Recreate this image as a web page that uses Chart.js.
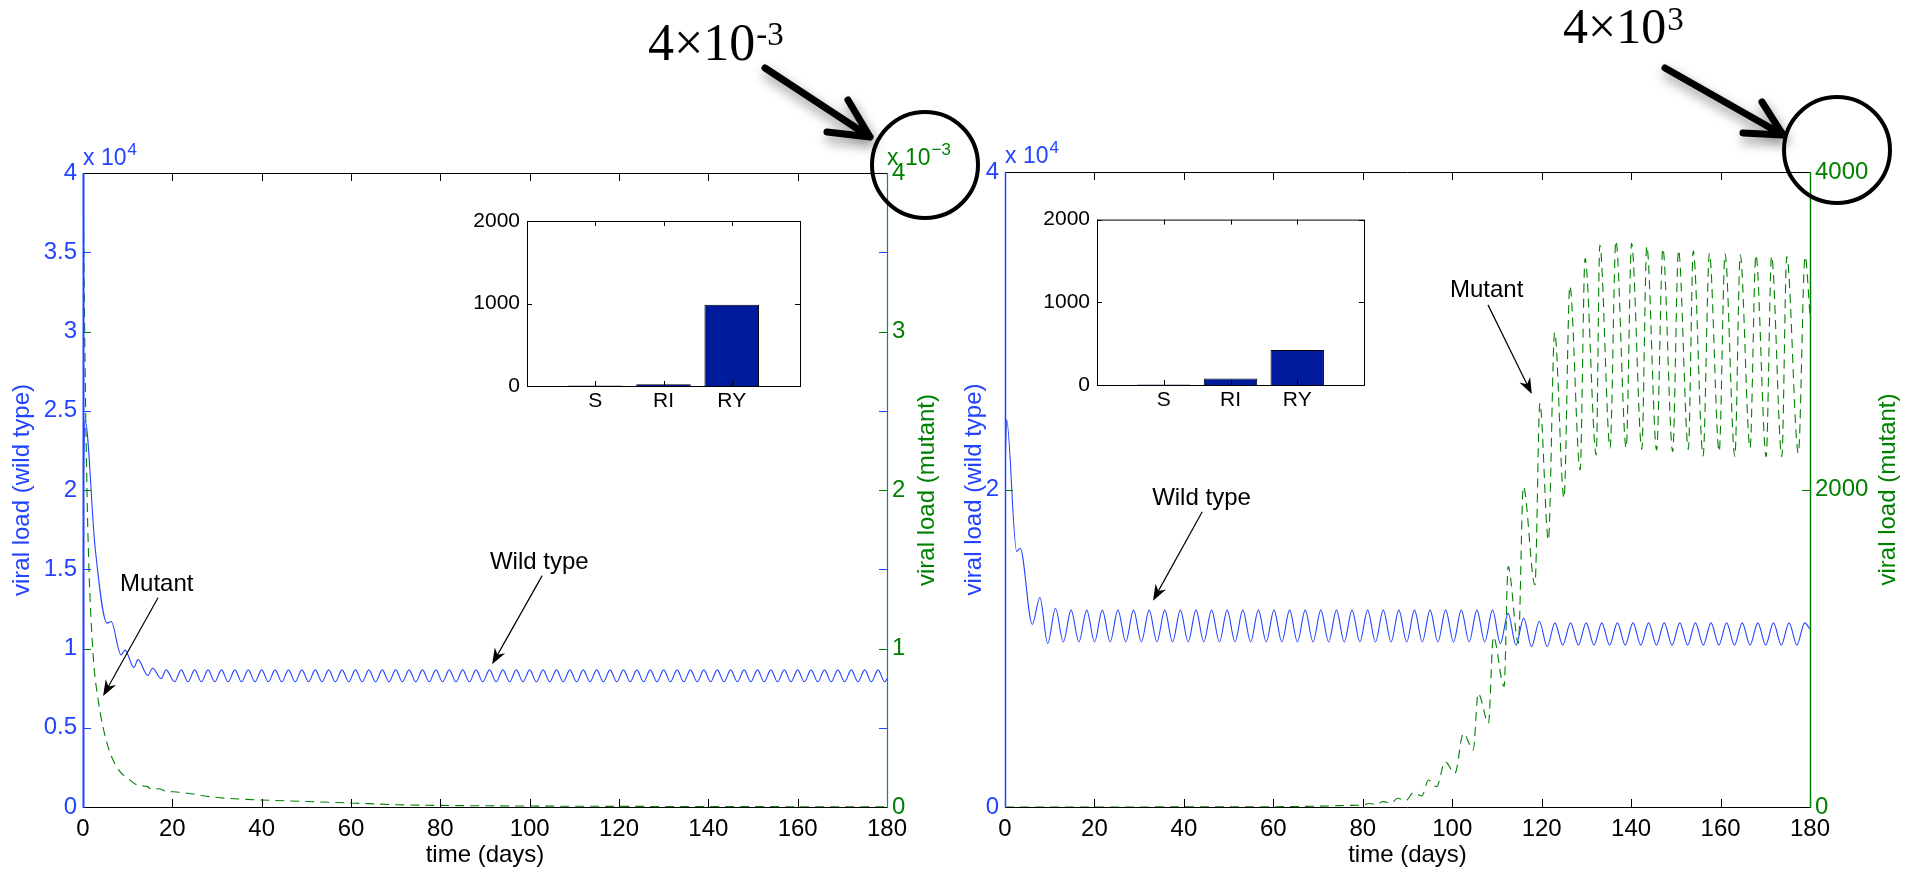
<!DOCTYPE html>
<html>
<head>
<meta charset="utf-8">
<title>viral load</title>
<script src="https://cdn.jsdelivr.net/npm/chart.js@4.4.1/dist/chart.umd.min.js"></script>
<style>
  html, body { margin: 0; padding: 0; background: #fff; }
  body { width: 1907px; height: 872px; position: relative; overflow: hidden; }
  canvas { position: absolute; }
  #leftChart { left: 0; top: 0; }
  #rightChart { left: 940px; top: 0; }
  #leftInset { left: 460px; top: 200px; }
  #rightInset { left: 1030px; top: 200px; }
</style>
</head>
<body>
<canvas id="leftChart" width="1000" height="872"></canvas>
<canvas id="rightChart" width="967" height="872"></canvas>
<canvas id="leftInset" width="360" height="230"></canvas>
<canvas id="rightInset" width="360" height="230"></canvas>
<script>
// values are kept in the units printed on each axis
// (wild type in 10^4, left mutant in 10^-3, right mutant plain)
const xTicks = [0, 20, 40, 60, 80, 100, 120, 140, 160, 180];
const leftWildTicks = [0, 0.5, 1, 1.5, 2, 2.5, 3, 3.5, 4];
const leftMutTicks = [0, 1, 2, 3, 4];
const rightWildTicks = [0, 2, 4];
const rightMutTicks = [0, 2000, 4000];
const insetTicks = [0, 1000, 2000];

const insetCats = ['', 'S', 'RI', 'RY', ''];
const leftInsetVals = [null, 6, 22, 985, null];
const rightInsetVals = [null, 6, 80, 422, null];

const leftWildT = [0, 0.45, 2.7, 5.4, 6.3, 8.5, 9.4, 11.4, 12.3, 14.5, 15.6, 17.5, 18.6,
  20.5, 22, 23.5, 25, 26.5, 28, 29.5, 31, 32.5, 34, 35.5, 37, 38.5, 40, 41.5, 43, 44.5, 46, 47.5, 49,
  50.5, 52, 53.5, 55, 56.5, 58, 59.5, 61, 62.5, 64, 65.5, 67, 68.5, 70, 71.5, 73, 74.5, 76, 77.5, 79,
  80.5, 82, 83.5, 85, 86.5, 88, 89.5, 91, 92.5, 94, 95.5, 97, 98.5, 100, 101.5, 103, 104.5, 106, 107.5, 109,
  110.5, 112, 113.5, 115, 116.5, 118, 119.5, 121, 122.5, 124, 125.5, 127, 128.5, 130, 131.5, 133, 134.5, 136, 137.5, 139,
  140.5, 142, 143.5, 145, 146.5, 148, 149.5, 151, 152.5, 154, 155.5, 157, 158.5, 160, 161.5, 163, 164.5, 166, 167.5, 169,
  170.5, 172, 173.5, 175, 176.5, 178, 179.5, 180];
const leftWildV = [2.0, 2.44, 1.64, 1.16, 1.17, 0.96, 0.99, 0.88, 0.93, 0.83, 0.875, 0.81, 0.865,
  0.79, 0.865, 0.79, 0.865, 0.79, 0.865, 0.79, 0.865, 0.79, 0.865, 0.79, 0.865, 0.79, 0.865, 0.79, 0.865, 0.79, 0.865, 0.79, 0.865,
  0.79, 0.865, 0.79, 0.865, 0.79, 0.865, 0.79, 0.865, 0.79, 0.865, 0.79, 0.865, 0.79, 0.865, 0.79, 0.865, 0.79, 0.865, 0.79, 0.865,
  0.79, 0.865, 0.79, 0.865, 0.79, 0.865, 0.79, 0.865, 0.79, 0.865, 0.79, 0.865, 0.79, 0.865, 0.79, 0.865, 0.79, 0.865, 0.79, 0.865,
  0.79, 0.865, 0.79, 0.865, 0.79, 0.865, 0.79, 0.865, 0.79, 0.865, 0.79, 0.865, 0.79, 0.865, 0.79, 0.865, 0.79, 0.865, 0.79, 0.865,
  0.79, 0.865, 0.79, 0.865, 0.79, 0.865, 0.79, 0.865, 0.79, 0.865, 0.79, 0.865, 0.79, 0.865, 0.79, 0.865, 0.79, 0.865, 0.79, 0.865,
  0.79, 0.865, 0.79, 0.865, 0.79, 0.865, 0.79, 0.81];

const leftMutT = [0, 0.3, 0.6, 1.1, 2.2, 3.4, 5.4, 7.6, 10.5, 12.5, 14.3, 15.5, 17, 18.5,
  21, 25, 29, 35, 40, 50, 60, 70, 80, 100, 120, 140, 160, 180];
const leftMutV = [4.0, 3.2, 2.5, 1.73, 0.99, 0.675, 0.40, 0.25, 0.17, 0.135, 0.13, 0.11, 0.115, 0.10,
  0.095, 0.08, 0.063, 0.05, 0.044, 0.035, 0.025, 0.015, 0.01, 0.006, 0.004, 0.003, 0.002, 0.002];

const rightWildT = [0, 0.35, 2.6, 3.4, 6.1,
  7.8, 9.55, 11.29, 13.04, 14.78, 16.53, 18.27, 20.02, 21.76, 23.51,
  25.25, 27.0, 28.74, 30.49, 32.23, 33.98, 35.72, 37.47, 39.21, 40.96,
  42.7, 44.45, 46.19, 47.94, 49.68, 51.43, 53.17, 54.92, 56.66, 58.41,
  60.15, 61.9, 63.64, 65.39, 67.13, 68.88, 70.62, 72.37, 74.11, 75.86,
  77.6, 79.35, 81.09, 82.84, 84.58, 86.33, 88.07, 89.82, 91.56, 93.31,
  95.05, 96.8, 98.54, 100.29, 102.03, 103.78, 105.52, 107.27, 109.01, 110.76,
  112.5, 114.25, 115.99, 117.74, 119.48, 121.23, 122.97, 124.72, 126.46, 128.21,
  129.95, 131.7, 133.44, 135.19, 136.93, 138.68, 140.42, 142.17, 143.91, 145.66,
  147.4, 149.15, 150.89, 152.64, 154.38, 156.13, 157.87, 159.62, 161.36, 163.11,
  164.85, 166.6, 168.34, 170.09, 171.83, 173.58, 175.32, 177.07, 178.81, 180];
const rightWildV = [2.1, 2.44, 1.61, 1.63, 1.15,
  1.32, 1.03, 1.25, 1.04, 1.24, 1.04, 1.24, 1.04, 1.24, 1.04,
  1.24, 1.04, 1.24, 1.04, 1.24, 1.04, 1.24, 1.04, 1.24, 1.04,
  1.24, 1.04, 1.24, 1.04, 1.24, 1.04, 1.24, 1.04, 1.24, 1.04,
  1.24, 1.04, 1.24, 1.04, 1.24, 1.04, 1.24, 1.04, 1.24, 1.04,
  1.24, 1.04, 1.24, 1.04, 1.24, 1.04, 1.24, 1.04, 1.24, 1.04,
  1.24, 1.04, 1.24, 1.04, 1.24, 1.04, 1.24, 1.04, 1.24, 1.03,
  1.22, 1.02, 1.19, 1.01, 1.17, 1.01, 1.16, 1.02, 1.16, 1.02,
  1.16, 1.02, 1.16, 1.02, 1.16, 1.02, 1.16, 1.02, 1.16, 1.02,
  1.16, 1.02, 1.16, 1.02, 1.16, 1.02, 1.16, 1.02, 1.16, 1.02,
  1.16, 1.02, 1.16, 1.02, 1.16, 1.02, 1.16, 1.02, 1.16, 1.12];

const rightMutT = [0, 60, 70, 77, 80, 81.5, 83, 84.5, 86.3, 87.8,
  89.6, 91.3, 93.2, 94.7, 96.5, 98.4, 100.6, 102.5, 104.7, 105.8,
  108.1, 109.2, 111.6, 112.5, 114.8, 115.9, 118.5, 119.6, 121.5, 122.9,
  125.0, 126.3, 128.6, 129.7, 132.2, 133.0, 135.3, 136.6, 138.9, 140.1,
  142.4, 143.5, 145.7, 147.1, 149.3, 150.6, 152.8, 153.9, 156.1, 157.5,
  159.7, 161.0, 163.2, 164.4, 166.6, 167.9, 170.2, 171.4, 173.7, 174.8,
  177.4, 178.9, 180];
const rightMutV = [0, 2, 5, 10, 13, 22, 15, 34, 25, 55,
  40, 90, 70, 170, 128, 285, 212, 464, 359, 716,
  527, 1073, 758, 1514, 1031, 2018, 1399, 2543, 1681, 2990,
  1945, 3282, 2123, 3456, 2217, 3540, 2261, 3567, 2261, 3551,
  2253, 3534, 2249, 3519, 2238, 3508, 2253, 3503, 2211, 3488,
  2238, 3484, 2207, 3478, 2261, 3478, 2207, 3471, 2207, 3468,
  2227, 3468, 3100];

const BLUE = '#2244ff';
const GREEN = '#008000';
const TEAL = '#237a78';
const NAVY = '#001a9c';
const FONT = '"Liberation Sans", Arial, Helvetica, sans-serif';
const SERIF = '"Liberation Serif", "Times New Roman", serif';
const FS = 24;
Chart.defaults.font.family = FONT;

const pts = (ts, vs) => ts.map((t, i) => ({ x: t, y: vs[i] }));
const fixTicks = (arr) => (s) => { s.ticks = arr.map(v => ({ value: v })); };

function thinArrow(ctx, x1, y1, x2, y2) {
  const ang = Math.atan2(y2 - y1, x2 - x1), c = Math.cos(ang), s = Math.sin(ang);
  const L = 16, W = 6;
  ctx.strokeStyle = '#000';
  ctx.fillStyle = '#000';
  ctx.lineWidth = 1.2;
  ctx.beginPath();
  ctx.moveTo(x1, y1);
  ctx.lineTo(x2 - 8 * c, y2 - 8 * s);
  ctx.stroke();
  const bx = x2 - L * c, by = y2 - L * s;
  ctx.beginPath();
  ctx.moveTo(x2, y2);
  ctx.lineTo(bx - s * W, by + c * W);
  ctx.lineTo(x2 - (L - 5) * c, y2 - (L - 5) * s);
  ctx.lineTo(bx + s * W, by - c * W);
  ctx.closePath();
  ctx.fill();
}

// matlab style box: coloured axis lines and inward ticks on both sides
const frame = {
  id: 'frame',
  beforeDatasetsDraw(chart, args, o) {
    if (!o.fill) return;
    const a = chart.chartArea;
    chart.ctx.save();
    chart.ctx.fillStyle = '#fff';
    chart.ctx.fillRect(a.left, a.top, a.right - a.left, a.bottom - a.top);
    chart.ctx.restore();
  },
  afterDraw(chart, args, o) {
    const { ctx, chartArea: a, scales } = chart;
    const len = o.tick;
    ctx.save();
    ctx.lineWidth = 1;
    o.ySets.forEach(set => {
      const s = scales[set.axis];
      ctx.strokeStyle = set.color;
      s.ticks.forEach((t, i) => {
        const y = Math.round(s.getPixelForTick(i)) + 0.5;
        ctx.beginPath();
        ctx.moveTo(a.left, y); ctx.lineTo(a.left + len, y);
        ctx.moveTo(a.right, y); ctx.lineTo(a.right - len, y);
        ctx.stroke();
      });
    });
    const sx = scales.x;
    ctx.strokeStyle = '#000';
    sx.ticks.forEach((t, i) => {
      if (t.label === '') return;
      const x = Math.round(sx.getPixelForTick(i)) + 0.5;
      ctx.beginPath();
      ctx.moveTo(x, a.bottom); ctx.lineTo(x, a.bottom - len);
      ctx.moveTo(x, a.top); ctx.lineTo(x, a.top + len);
      ctx.stroke();
    });
    const L = o.lines;
    const seg = (c, w, x1, y1, x2, y2) => {
      ctx.strokeStyle = c; ctx.lineWidth = w;
      ctx.beginPath(); ctx.moveTo(x1, y1); ctx.lineTo(x2, y2); ctx.stroke();
    };
    seg(L.top[0], L.top[1], a.left, a.top + 0.5, a.right, a.top + 0.5);
    seg(L.bottom[0], L.bottom[1], a.left, a.bottom + 0.5, a.right, a.bottom + 0.5);
    seg(L.right[0], L.right[1], a.right + 0.5, a.top, a.right + 0.5, a.bottom + 1);
    seg(L.left[0], L.left[1], a.left + 0.5, a.top, a.left + 0.5, a.bottom + 1);
    ctx.restore();
  }
};

// exponents, rotated axis titles, text labels with arrows and the circled callout
const notes = {
  id: 'notes',
  afterDraw(chart, args, o) {
    const { ctx, chartArea: a, scales } = chart;
    ctx.save();
    ctx.textAlign = 'left';
    ctx.textBaseline = 'alphabetic';
    o.exps.forEach(e => {
      const x0 = (e.side === 'left' ? a.left : a.right) + e.dx, y0 = a.top + e.dy;
      ctx.fillStyle = e.color;
      ctx.font = `23px ${FONT}`;
      ctx.fillText(e.base, x0, y0);
      const w = ctx.measureText(e.base).width;
      ctx.font = `17px ${FONT}`;
      ctx.fillText(e.sup, x0 + w + 1, y0 - 10);
    });
    o.titles.forEach(t => {
      ctx.save();
      ctx.translate((t.side === 'left' ? a.left : a.right) + t.dx, (a.top + a.bottom) / 2);
      ctx.rotate(-Math.PI / 2);
      ctx.font = `${FS}px ${FONT}`;
      ctx.fillStyle = t.color;
      ctx.textAlign = 'center';
      ctx.textBaseline = 'middle';
      ctx.fillText(t.text, 0, 0);
      ctx.restore();
    });
    const P = (p) => [scales.x.getPixelForValue(p[0]), scales[p[2]].getPixelForValue(p[1])];
    o.labels.forEach(l => {
      const [tx, ty] = P(l.at);
      ctx.font = `${FS}px ${FONT}`;
      ctx.fillStyle = '#000';
      ctx.fillText(l.text, tx, ty);
      const [x1, y1] = P(l.from), [x2, y2] = P(l.to);
      thinArrow(ctx, x1, y1, x2, y2);
    });
    const c = o.callout;
    const cx = a.right, cy = a.top;
    ctx.fillStyle = '#000';
    ctx.font = `${c.size}px ${SERIF}`;
    ctx.fillText(c.base, cx + c.tx, cy + c.ty);
    const w = ctx.measureText(c.base).width;
    ctx.font = `${c.supSize}px ${SERIF}`;
    ctx.fillText(c.sup, cx + c.tx + w + 1, cy + c.ty - c.raise);
    ctx.strokeStyle = '#000';
    ctx.lineWidth = 4;
    ctx.beginPath();
    ctx.arc(cx + c.circle[0], cy + c.circle[1], c.circle[2], 0, Math.PI * 2);
    ctx.stroke();
    ctx.shadowColor = 'rgba(0,0,0,0.45)';
    ctx.shadowBlur = 12;
    ctx.shadowOffsetX = 2;
    ctx.shadowOffsetY = 6;
    ctx.lineWidth = 7;
    ctx.lineCap = 'round';
    ctx.lineJoin = 'round';
    const tip = [cx + c.tip[0], cy + c.tip[1]];
    ctx.beginPath();
    ctx.moveTo(cx + c.tail[0], cy + c.tail[1]);
    ctx.lineTo(tip[0], tip[1]);
    ctx.moveTo(cx + c.head[0][0], cy + c.head[0][1]);
    ctx.lineTo(tip[0], tip[1]);
    ctx.lineTo(cx + c.head[1][0], cy + c.head[1][1]);
    ctx.stroke();
    ctx.restore();
  }
};

const tickFont = { family: FONT, size: FS };

function panel(id, cfg) {
  return new Chart(document.getElementById(id), {
    type: 'line',
    data: {
      datasets: [
        { data: pts(cfg.wildT, cfg.wildV), yAxisID: 'y', borderColor: BLUE, borderWidth: 1.1,
          pointRadius: 0, cubicInterpolationMode: 'monotone' },
        { data: pts(cfg.mutT, cfg.mutV), yAxisID: 'y2', borderColor: GREEN, borderWidth: 1.1,
          borderDash: [9, 6], pointRadius: 0, cubicInterpolationMode: 'monotone' }
      ]
    },
    options: {
      responsive: false,
      animation: false,
      events: [],
      layout: { padding: { top: cfg.top, left: 0, right: 0, bottom: 0 } },
      plugins: { legend: { display: false }, tooltip: { enabled: false }, frame: cfg.frame, notes: cfg.notes },
      scales: {
        x: {
          type: 'linear', min: 0, max: 180,
          afterBuildTicks: fixTicks(xTicks),
          afterFit: s => { s.height = 65; },
          grid: { display: false, drawTicks: false }, border: { display: false },
          ticks: { color: '#000', font: tickFont, padding: 8, maxRotation: 0, autoSkip: false, callback: v => String(v) },
          title: { display: true, text: 'time (days)', color: '#000', font: tickFont, padding: { top: 0, bottom: 2 } }
        },
        y: {
          position: 'left', min: 0, max: cfg.wildMax,
          afterBuildTicks: fixTicks(cfg.wildTicks),
          afterFit: s => { s.width = cfg.leftW; },
          grid: { display: false, drawTicks: false }, border: { display: false },
          ticks: { color: BLUE, font: tickFont, padding: 6, autoSkip: false, callback: v => String(v) }
        },
        y2: {
          position: 'right', min: 0, max: cfg.mutMax,
          afterBuildTicks: fixTicks(cfg.mutTicks),
          afterFit: s => { s.width = cfg.rightW; },
          grid: { display: false, drawTicks: false }, border: { display: false },
          ticks: { color: GREEN, font: tickFont, padding: 5, autoSkip: false, callback: v => String(v) }
        }
      }
    },
    plugins: [frame, notes]
  });
}

function inset(id, vals, cfg) {
  return new Chart(document.getElementById(id), {
    type: 'bar',
    data: {
      labels: insetCats,
      datasets: [{ data: vals, backgroundColor: NAVY, borderColor: '#000', borderWidth: 1,
        barPercentage: 0.8, categoryPercentage: 1 }]
    },
    options: {
      responsive: false,
      animation: false,
      events: [],
      layout: { padding: { top: cfg.top, right: cfg.right, left: 0, bottom: 0 } },
      plugins: {
        legend: { display: false }, tooltip: { enabled: false },
        frame: { fill: true, tick: 5, ySets: [{ axis: 'y', color: '#000' }],
          lines: { left: ['#000', 1], right: ['#000', 1], top: ['#000', 1], bottom: ['#000', 1] } }
      },
      scales: {
        x: {
          offset: false,
          afterFit: s => { s.height = cfg.xh; },
          grid: { display: false, drawTicks: false }, border: { display: false },
          ticks: { color: '#000', font: { family: FONT, size: 21 }, padding: 3, maxRotation: 0, autoSkip: false }
        },
        y: {
          min: 0, max: 2000,
          afterBuildTicks: fixTicks(insetTicks),
          afterFit: s => { s.width = 67; },
          grid: { display: false, drawTicks: false }, border: { display: false },
          ticks: { color: '#000', font: { family: FONT, size: 21 }, padding: 7, callback: v => String(v) }
        }
      }
    },
    plugins: [frame]
  });
}

panel('leftChart', {
  wildT: leftWildT, wildV: leftWildV, mutT: leftMutT, mutV: leftMutV,
  wildTicks: leftWildTicks, mutTicks: leftMutTicks, wildMax: 4, mutMax: 4,
  top: 173, leftW: 83, rightW: 113,
  frame: { tick: 8, ySets: [{ axis: 'y', color: BLUE }, { axis: 'y2', color: GREEN }],
    lines: { left: [BLUE, 2], right: [TEAL, 1.2], top: ['#000', 1], bottom: ['#000', 1] } },
  notes: {
    exps: [{ side: 'left', dx: 0, dy: -8, base: 'x 10', sup: '4', color: BLUE },
           { side: 'right', dx: 0, dy: -8, base: 'x 10', sup: '\u22123', color: GREEN }],
    titles: [{ side: 'left', dx: -61, text: 'viral load (wild type)', color: BLUE },
             { side: 'right', dx: 40, text: 'viral load (mutant)', color: GREEN }],
    labels: [
      { text: 'Mutant', at: [8.3, 1.36, 'y'], from: [16.8, 1.32, 'y'], to: [4.5, 0.70, 'y'] },
      { text: 'Wild type', at: [91.1, 1.50, 'y'], from: [102.8, 1.46, 'y'], to: [91.6, 0.90, 'y'] }
    ],
    callout: { base: '4\u00d710', sup: '-3', size: 52, supSize: 33, tx: -239, ty: -113, raise: 15,
      tail: [-122, -105], tip: [-17, -36], head: [[-39, -73], [-60, -41]], circle: [38, -8, 53] }
  }
});

panel('rightChart', {
  wildT: rightWildT, wildV: rightWildV, mutT: rightMutT, mutV: rightMutV,
  wildTicks: rightWildTicks, mutTicks: rightMutTicks, wildMax: 4, mutMax: 4000,
  top: 172, leftW: 65, rightW: 97,
  frame: { tick: 8, ySets: [{ axis: 'y', color: BLUE }, { axis: 'y2', color: GREEN }],
    lines: { left: [BLUE, 1.5], right: [GREEN, 1.5], top: ['#000', 1], bottom: ['#000', 1] } },
  notes: {
    exps: [{ side: 'left', dx: 0, dy: -9, base: 'x 10', sup: '4', color: BLUE }],
    titles: [{ side: 'left', dx: -31, text: 'viral load (wild type)', color: BLUE },
             { side: 'right', dx: 78, text: 'viral load (mutant)', color: GREEN }],
    labels: [
      { text: 'Wild type', at: [32.9, 1.90, 'y'], from: [44.1, 1.86, 'y'], to: [33.1, 1.30, 'y'] },
      { text: 'Mutant', at: [99.5, 3213, 'y2'], from: [108.0, 3163, 'y2'], to: [117.8, 2601, 'y2'] }
    ],
    callout: { base: '4\u00d710', sup: '3', size: 50, supSize: 33, tx: -247, ty: -129, raise: 13,
      tail: [-145, -104], tip: [-27, -37], head: [[-48, -70], [-67, -39]], circle: [27, -22, 53] }
  }
});

inset('leftInset', leftInsetVals, { top: 21, right: 20, xh: 44 });
inset('rightInset', rightInsetVals, { top: 19, right: 26, xh: 45 });
</script>
</body>
</html>
